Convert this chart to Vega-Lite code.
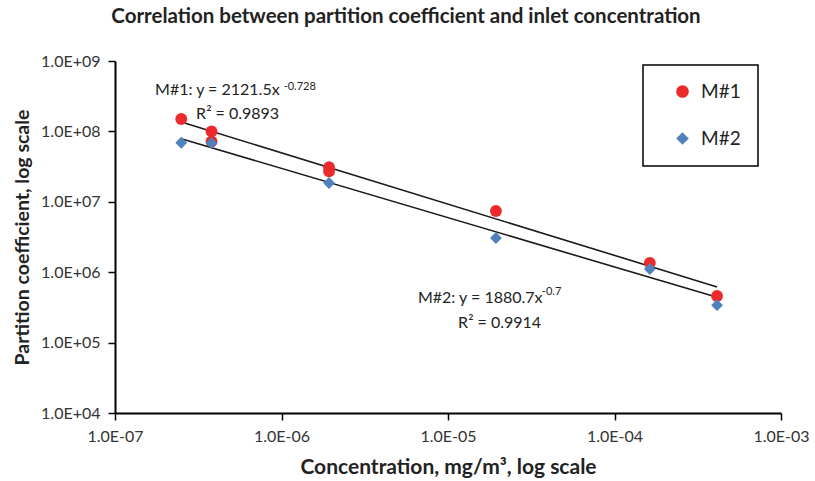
{
  "$schema": "https://vega.github.io/schema/vega-lite/v6.json",
  "width": 666,
  "height": 352,
  "autosize": {"type": "none"},
  "padding": {"left": 115, "top": 61, "right": 34, "bottom": 68},
  "background": "white",
  "config": {
    "font": "Lato",
    "view": {"stroke": null},
    "axis": {
      "grid": false,
      "domainColor": "black",
      "domainWidth": 2,
      "tickColor": "black",
      "tickWidth": 1.5,
      "tickSize": 7,
      "labelFontSize": 16,
      "labelColor": "#333333",
      "labelFont": "Lato",
      "titleFont": "Lato",
      "titleFontSize": 20,
      "titleFontWeight": "bold",
      "titleColor": "#222222",
      "labelOverlap": false,
      "labelFlush": false
    },
    "legend": {
      "orient": "none",
      "legendX": 528,
      "legendY": 4,
      "strokeColor": "black",
      "strokeWidth": 1.5,
      "padding": 17,
      "symbolOffset": 13,
      "labelOffset": 9,
      "rowPadding": 27,
      "labelFontSize": 19,
      "labelFont": "Lato",
      "labelColor": "#222222",
      "symbolSize": 160,
      "symbolStrokeWidth": 0
    }
  },
  "title": {
    "text": "Correlation between partition  coefficient and inlet concentration",
    "fontSize": 20.5,
    "fontWeight": "bold",
    "font": "Lato",
    "color": "#222222",
    "anchor": "middle",
    "dx": -42,
    "offset": 26
  },
  "datasets": {
    "points": [
      {"series": "M#1", "conc": 2.5e-7, "pc": 1.5e8},
      {"series": "M#1", "conc": 3.8e-7, "pc": 1.0e8},
      {"series": "M#1", "conc": 3.8e-7, "pc": 7.2e7},
      {"series": "M#1", "conc": 1.93e-6, "pc": 3.1e7},
      {"series": "M#1", "conc": 1.93e-6, "pc": 2.7e7},
      {"series": "M#1", "conc": 1.94e-5, "pc": 7.4e6},
      {"series": "M#1", "conc": 1.63e-4, "pc": 1.35e6},
      {"series": "M#1", "conc": 4.13e-4, "pc": 4.6e5},
      {"series": "M#2", "conc": 2.5e-7, "pc": 6.9e7},
      {"series": "M#2", "conc": 3.8e-7, "pc": 6.8e7},
      {"series": "M#2", "conc": 1.93e-6, "pc": 1.85e7},
      {"series": "M#2", "conc": 1.94e-5, "pc": 3.06e6},
      {"series": "M#2", "conc": 1.63e-4, "pc": 1.11e6},
      {"series": "M#2", "conc": 4.13e-4, "pc": 3.4e5}
    ],
    "fits": [
      {"series": "M#1", "conc": 2.5e-7, "pc": 1.36e8},
      {"series": "M#1", "conc": 4.13e-4, "pc": 6.17e5},
      {"series": "M#2", "conc": 2.5e-7, "pc": 7.86e7},
      {"series": "M#2", "conc": 4.13e-4, "pc": 4.4e5}
    ],
    "notes": [
      {"kind": "main", "label": "M#1: y = 2121.5x", "conc": 1.74e-7, "pc": 3.29e8},
      {"kind": "sup", "label": "-0.728", "conc": 1.03e-6, "pc": 3.87e8},
      {"kind": "main", "label": "R² = 0.9893", "conc": 3.07e-7, "pc": 1.5e8},
      {"kind": "main", "label": "M#2: y = 1880.7x", "conc": 6.6e-6, "pc": 3.65e5},
      {"kind": "sup", "label": "-0.7", "conc": 3.66e-5, "pc": 4.75e5},
      {"kind": "main", "label": "R² = 0.9914", "conc": 1.15e-5, "pc": 1.61e5}
    ]
  },
  "encoding": {
    "x": {
      "field": "conc",
      "type": "quantitative",
      "scale": {"type": "log", "domain": [1e-7, 1e-3]},
      "axis": {
        "title": "Concentration, mg/m³, log scale",
        "titleFontSize": 21,
        "values": [1e-7, 1e-6, 1e-5, 1e-4, 1e-3],
        "labelExpr": "'1.0E-0' + format(round(-log(datum.value)/LN10), 'd')",
        "labelPadding": 8,
        "titlePadding": 12
      }
    },
    "y": {
      "field": "pc",
      "type": "quantitative",
      "scale": {"type": "log", "domain": [1e4, 1e9]},
      "axis": {
        "title": "Partition coefficient, log scale",
        "titleFontSize": 19.5,
        "values": [1e4, 1e5, 1e6, 1e7, 1e8, 1e9],
        "labelExpr": "'1.0E+0' + format(round(log(datum.value)/LN10), 'd')",
        "labelPadding": 8,
        "titlePadding": 8
      }
    }
  },
  "layer": [
    {
      "data": {"name": "fits"},
      "mark": {"type": "line", "color": "#1a1a1a", "strokeWidth": 1.6},
      "encoding": {"detail": {"field": "series"}}
    },
    {
      "data": {"name": "points"},
      "mark": {"type": "point", "filled": true, "opacity": 1, "size": 140},
      "encoding": {
        "color": {
          "field": "series",
          "type": "nominal",
          "scale": {"domain": ["M#1", "M#2"], "range": ["#EC2A2B", "#4F81BD"]},
          "legend": {"title": null}
        },
        "shape": {
          "field": "series",
          "type": "nominal",
          "scale": {"domain": ["M#1", "M#2"], "range": ["circle", "diamond"]},
          "legend": {"title": null}
        }
      }
    },
    {
      "data": {"name": "notes"},
      "transform": [{"filter": "datum.kind === 'main'"}],
      "mark": {"type": "text", "align": "left", "baseline": "alphabetic", "fontSize": 16, "font": "Lato", "color": "#222222"},
      "encoding": {"text": {"field": "label"}}
    },
    {
      "data": {"name": "notes"},
      "transform": [{"filter": "datum.kind === 'sup'"}],
      "mark": {"type": "text", "align": "left", "baseline": "alphabetic", "fontSize": 11, "font": "Lato", "color": "#222222"},
      "encoding": {"text": {"field": "label"}}
    }
  ]
}
